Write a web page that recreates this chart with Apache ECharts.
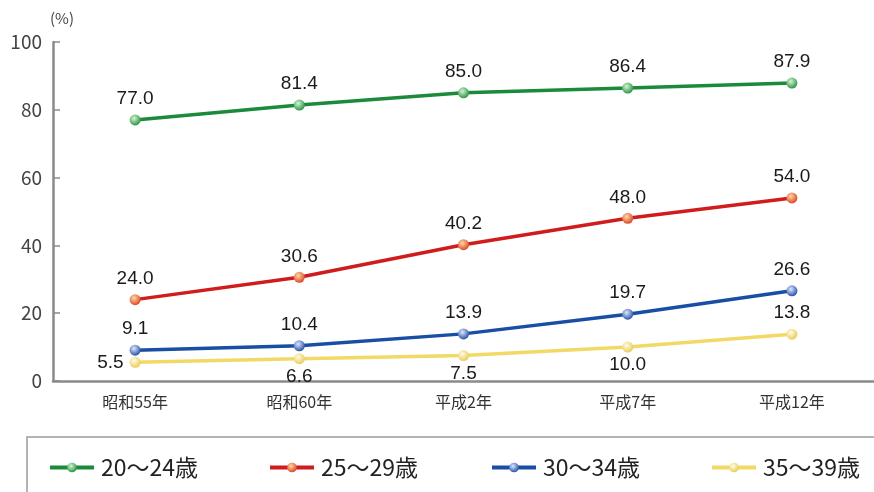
<!DOCTYPE html>
<html>
<head>
<meta charset="utf-8">
<script src="https://cdn.jsdelivr.net/npm/echarts@6/dist/echarts.min.js"></script>
<style>html,body{margin:0;padding:0;background:#fff}#c{width:874px;height:492px}</style>
</head>
<body>
<div id="c"></div>
<script>
// 年次
const categories = ['昭和55年', '昭和60年', '平成2年', '平成7年', '平成12年'];
// 年齢階級別の割合(%)
const age20_24 = [77.0, 81.4, 85.0, 86.4, 87.9];
const age25_29 = [24.0, 30.6, 40.2, 48.0, 54.0];
const age30_34 = [9.1, 10.4, 13.9, 19.7, 26.6];
const age35_39 = [5.5, 6.6, 7.5, 10.0, 13.8];
const seriesNames = ['20～24歳', '25～29歳', '30～34歳', '35～39歳'];
const yTicks = [0, 20, 40, 60, 80, 100];

const lineColors = ['#1b8a3a', '#d01c1c', '#184ea4', '#f2d965'];
const ballLight = ['#d4f5d4', '#ffd8a8', '#dde8ff', '#fffce6'];
const ballDark = ['#1f8f3a', '#d8401c', '#1d4aa0', '#e8c850'];

// 35～39歳 のラベル位置
const yellowPos = ['left', 'bottom', 'bottom', 'bottom', 'top'];

// 凡例の各項目の左端
const legendLeft = [48, 268, 490, 710];

function ball(i) {
  return {
    type: 'radial', x: 0.4, y: 0.35, r: 0.7,
    colorStops: [{ offset: 0, color: ballLight[i] }, { offset: 1, color: ballDark[i] }]
  };
}

function makeSeries(name, values, i, positions) {
  return {
    name: name,
    type: 'line',
    data: values.map((v, k) => {
      const pos = positions ? positions[k] : 'top';
      return { value: v, label: { position: pos, distance: pos === 'bottom' ? 3 : 6 } };
    }),
    symbol: 'circle',
    symbolSize: 11,
    itemStyle: { color: ball(i), borderWidth: 0 },
    lineStyle: { color: lineColors[i], width: 3.5 },
    label: {
      show: true,
      formatter: p => p.value.toFixed(1),
      fontFamily: 'Liberation Sans, Arial, sans-serif',
      fontSize: 19,
      color: '#1a1a1a'
    },
    z: 3
  };
}

const chart = echarts.init(document.getElementById('c'));
chart.setOption({
  animation: false,
  backgroundColor: '#fff',
  grid: { left: 53, right: -13, top: 42, bottom: 111 },
  legend: seriesNames.map((n, i) => ({
    left: legendLeft[i], top: 456,
    padding: 0,
    itemWidth: 44, itemHeight: 12,
    data: [{
      name: n,
      itemStyle: { color: ball(i) },
      lineStyle: { color: lineColors[i], width: 4 }
    }],
    textStyle: { fontFamily: 'Noto Sans CJK JP', fontSize: 23, color: '#222', padding: [0, 0, 0, 2] }
  })),
  graphic: [
    {
      type: 'rect',
      shape: { x: 27, y: 437, width: 880, height: 80 },
      style: { fill: 'none', stroke: '#9a9a9a', lineWidth: 1.5 },
      silent: true
    },
    {
      type: 'text', left: 50, top: 11,
      style: { text: '(%)', fontFamily: 'Noto Sans CJK JP', fontSize: 15, fill: '#444' }
    }
  ],
  xAxis: {
    type: 'category',
    data: categories,
    boundaryGap: true,
    axisLine: { lineStyle: { color: '#8a8a8a', width: 2.5 } },
    axisTick: { inside: true, length: 6, lineStyle: { color: '#8a8a8a', width: 1.5 } },
    axisLabel: { fontFamily: 'Noto Sans CJK JP', fontSize: 16, color: '#333', margin: 13 }
  },
  yAxis: {
    type: 'value',
    min: yTicks[0], max: yTicks[yTicks.length - 1], interval: 20,
    axisLine: { show: true, lineStyle: { color: '#8a8a8a', width: 2.5 } },
    axisTick: { show: true, inside: true, length: 7, lineStyle: { color: '#8a8a8a', width: 1.5 } },
    splitLine: { show: false },
    axisLabel: { fontFamily: 'Noto Sans CJK JP', fontSize: 19, color: '#444', margin: 11 }
  },
  series: [
    makeSeries(seriesNames[0], age20_24, 0),
    makeSeries(seriesNames[1], age25_29, 1),
    makeSeries(seriesNames[2], age30_34, 2),
    makeSeries(seriesNames[3], age35_39, 3, yellowPos)
  ]
});
</script>
</body>
</html>
